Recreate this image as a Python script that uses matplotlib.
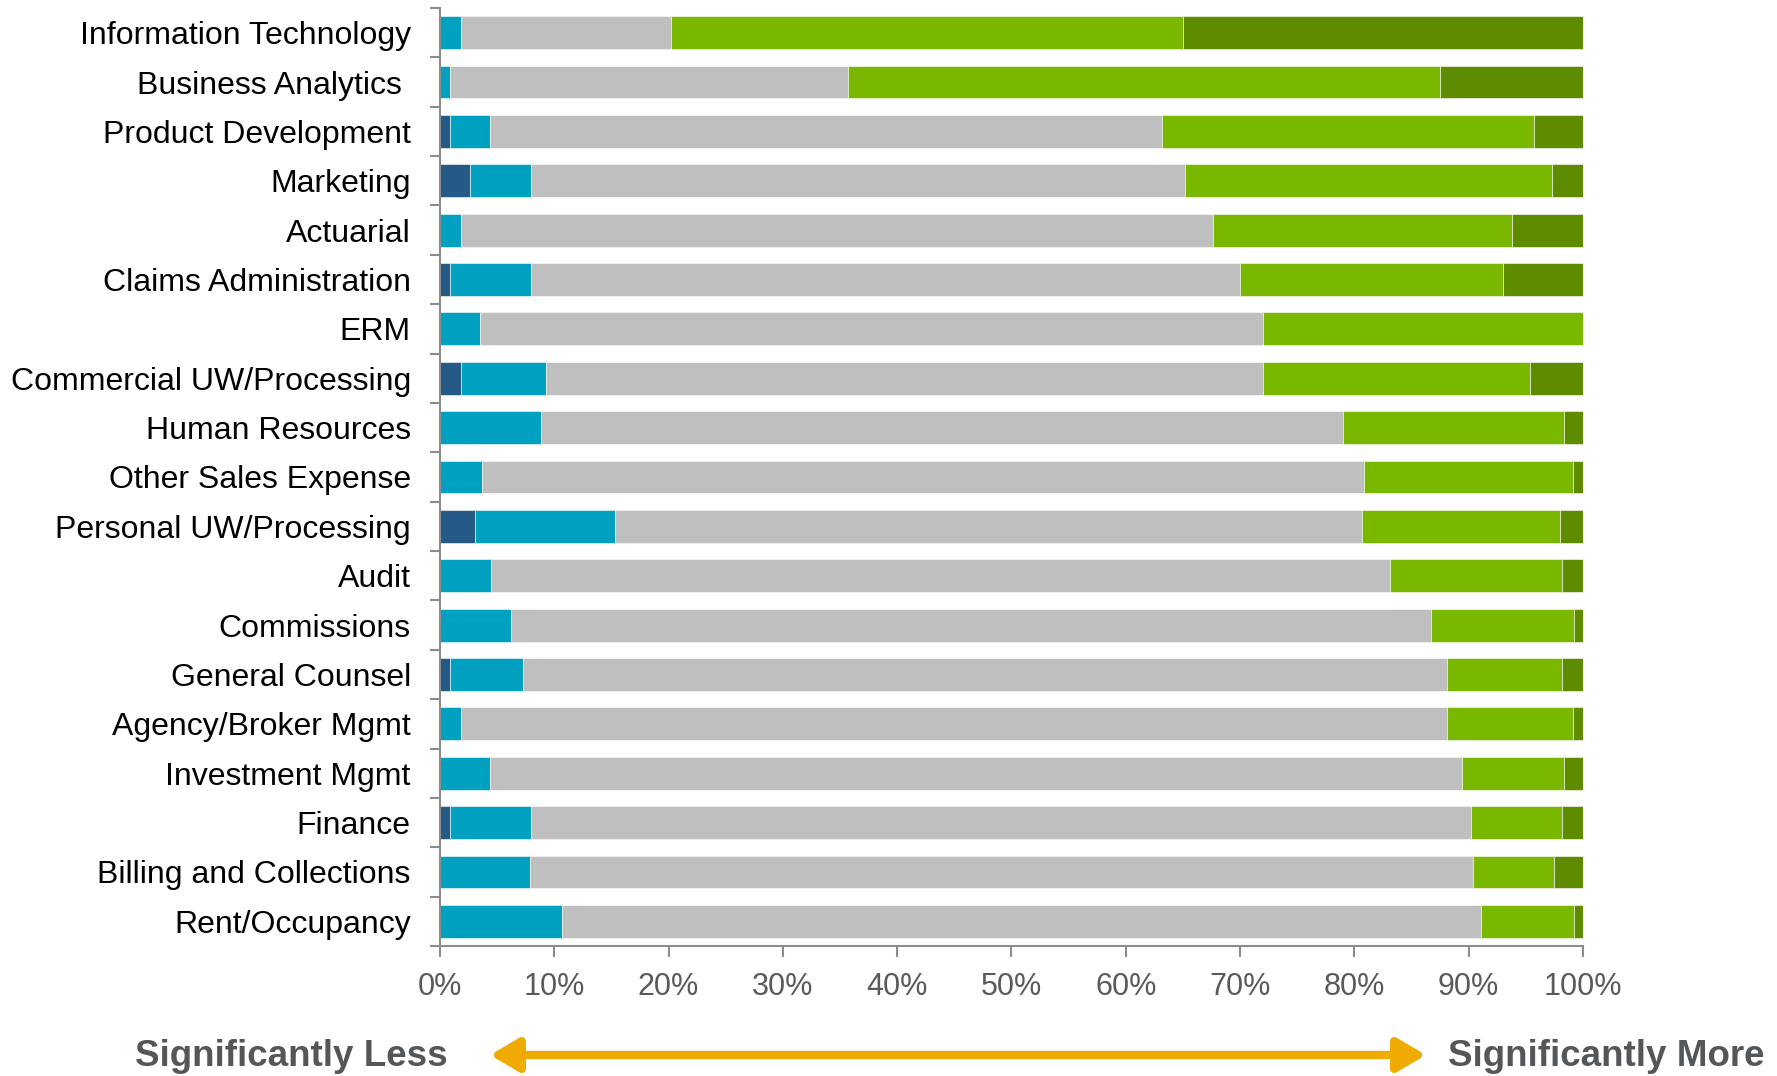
# ==============================
# 1. IMPORTS
# ==============================
import numpy as np
import matplotlib
matplotlib.use("Agg")
import matplotlib.pyplot as plt
from matplotlib.patches import ArrowStyle

# ==============================
# 2. DATA (% of respondents per function)
# ==============================
functions = [
    "Information Technology", "Business Analytics ", "Product Development",
    "Marketing", "Actuarial", "Claims Administration", "ERM",
    "Commercial UW/Processing", "Human Resources", "Other Sales Expense",
    "Personal UW/Processing", "Audit", "Commissions", "General Counsel",
    "Agency/Broker Mgmt", "Investment Mgmt", "Finance",
    "Billing and Collections", "Rent/Occupancy",
]

sig_less  = [0.0, 0.0, 0.9, 2.6, 0.0, 0.9, 0.0, 1.8, 0.0, 0.0, 3.1, 0.0, 0.0, 0.9, 0.0, 0.0, 0.9, 0.0, 0.0]
less      = [1.8, 0.9, 3.5, 5.4, 1.8, 7.1, 3.5, 7.5, 8.8, 3.7, 12.2, 4.5, 6.2, 6.4, 1.8, 4.4, 7.1, 7.9, 10.7]
same      = [18.4, 34.8, 58.8, 57.2, 65.8, 62.0, 68.5, 62.7, 70.2, 77.1, 65.4, 78.6, 80.5, 80.8, 86.3, 85.0, 82.2, 82.5, 80.4]
more      = [44.8, 51.8, 32.5, 32.1, 26.2, 23.0, 28.0, 23.4, 19.3, 18.3, 17.3, 15.1, 12.5, 10.1, 11.0, 8.9, 8.0, 7.1, 8.1]
sig_more  = [35.0, 12.5, 4.3, 2.7, 6.2, 7.0, 0.0, 4.6, 1.7, 0.9, 2.0, 1.8, 0.8, 1.8, 0.9, 1.7, 1.8, 2.5, 0.8]

tick_vals = [0, 10, 20, 30, 40, 50, 60, 70, 80, 90, 100]

series = [sig_less, less, same, more, sig_more]
colors = ["#255A87", "#00A0C1", "#BFBFBF", "#7AB800", "#5E8B00"]

# ==============================
# 3. PLOT
# ==============================
plt.rcParams["font.family"] = ["Liberation Sans", "DejaVu Sans"]

fig = plt.figure(figsize=(17.77, 10.76), dpi=100)
ax = fig.add_axes([0.2476, 0.1208, 0.6432, 0.8718])

y = np.arange(len(functions))
left = np.zeros(len(functions))
for vals, col in zip(series, colors):
    vals = np.array(vals)
    ax.barh(y, vals, left=left, height=0.665, color=col,
            edgecolor="white", linewidth=0.4)
    left += vals

ax.set_xlim(0, 100)
ax.set_ylim(len(functions) - 0.5, -0.5)

# category labels at bar centres, tick marks between bars
ax.set_yticks(y)
ax.set_yticklabels(functions, fontsize=23, color="black")
ax.tick_params(axis="y", which="major", length=0, pad=21)
ax.set_yticks(np.arange(-0.5, len(functions), 1.0), minor=True)
ax.tick_params(axis="y", which="minor", length=7, width=1.5,
               color="#8C8C8C", direction="out")

ax.set_xticks(tick_vals)
ax.set_xticklabels([f"{v}%" for v in tick_vals], fontsize=22, color="#595A5C")
ax.tick_params(axis="x", length=8, width=1.5, color="#8C8C8C", pad=11)

for side in ["top", "right"]:
    ax.spines[side].set_visible(False)
for side in ["left", "bottom"]:
    ax.spines[side].set_color("#8C8C8C")
    ax.spines[side].set_linewidth(1.5)

# ==============================
# 4. DIRECTION ARROW
# ==============================
fig.text(135 / 1777, 10 / 1076, "Significantly Less", fontsize=26.5,
         fontweight="bold", color="#54575A", ha="left", va="baseline")
fig.text(1765 / 1777, 10 / 1076, "Significantly More", fontsize=26.5,
         fontweight="bold", color="#54575A", ha="right", va="baseline")

ax.annotate("", xy=(1426, 21), xytext=(490, 21),
            xycoords="figure pixels", textcoords="figure pixels",
            arrowprops=dict(arrowstyle=ArrowStyle("<|-|>", head_length=0.85, head_width=0.5),
                            mutation_scale=20, color="#F0AB00", lw=6,
                            shrinkA=0, shrinkB=0))

fig.savefig("out.png", dpi=100)
